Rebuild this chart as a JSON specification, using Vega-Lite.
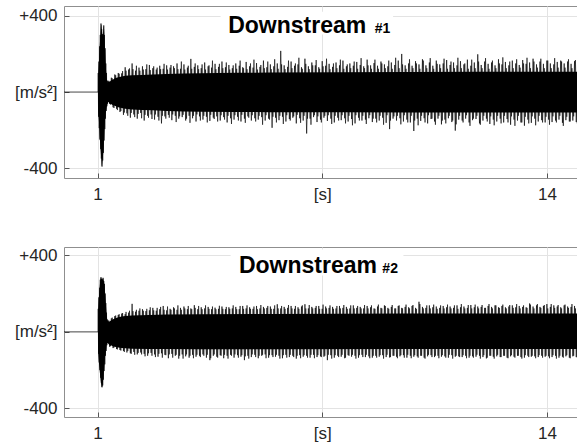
{
  "$schema": "https://vega.github.io/schema/vega-lite/v6.json",
  "padding": {"left": 0, "top": 5, "right": 0, "bottom": 0},
  "spacing": 26,
  "config": {
    "font": "Liberation Sans",
    "view": {"stroke": "#8f8f8f", "strokeWidth": 1},
    "axis": {
      "labelFont": "Liberation Sans",
      "labelFontSize": 17,
      "labelColor": "#262626",
      "domain": false,
      "tickColor": "#555555",
      "tickSize": -5,
      "grid": true,
      "gridColor": "#e3e3e3",
      "labelOverlap": false
    }
  },
  "datasets": {
    "e1": [{"t":1.015,"h":0,"l":0},{"t":1.02,"h":95,"l":-100},{"t":1.04,"h":150,"l":-150},{"t":1.06,"h":230,"l":-230},{"t":1.08,"h":290,"l":-280},{"t":1.1,"h":350,"l":-330},{"t":1.11,"h":355,"l":-345},{"t":1.125,"h":325,"l":-392},{"t":1.14,"h":300,"l":-365},{"t":1.16,"h":295,"l":-330},{"t":1.175,"h":335,"l":-290},{"t":1.185,"h":345,"l":-255},{"t":1.2,"h":290,"l":-195},{"t":1.215,"h":230,"l":-150},{"t":1.23,"h":165,"l":-120},{"t":1.25,"h":105,"l":-95},{"t":1.27,"h":62,"l":-72},{"t":1.29,"h":48,"l":-58},{"t":1.32,"h":55,"l":-52},{"t":1.36,"h":55,"l":-62},{"t":1.4,"h":62,"l":-64},{"t":1.45,"h":66,"l":-70},{"t":1.5,"h":72,"l":-72},{"t":1.6,"h":78,"l":-80},{"t":1.7,"h":82,"l":-84},{"t":1.8,"h":85,"l":-88},{"t":2,"h":88,"l":-92},{"t":2.3,"h":90,"l":-94},{"t":2.6,"h":92,"l":-96},{"t":3,"h":95,"l":-100},{"t":3.5,"h":97,"l":-102},{"t":4,"h":99,"l":-104},{"t":5,"h":101,"l":-105},{"t":6,"h":102,"l":-106},{"t":8,"h":104,"l":-107},{"t":10,"h":105,"l":-108},{"t":12,"h":106,"l":-108},{"t":14.9,"h":106,"l":-108}],
    "s1": [{"t":0.03,"v":0},{"t":1.015,"v":0},{"t":1.02,"v":100},{"t":1.03,"v":-130},{"t":1.04,"v":160},{"t":1.05,"v":-190},{"t":1.06,"v":240},{"t":1.07,"v":-250},{"t":1.08,"v":300},{"t":1.09,"v":-300},{"t":1.1,"v":360},{"t":1.11,"v":-350},{"t":1.12,"v":330},{"t":1.13,"v":-392},{"t":1.14,"v":305},{"t":1.15,"v":-360},{"t":1.16,"v":300},{"t":1.17,"v":-320},{"t":1.18,"v":350},{"t":1.19,"v":-255},{"t":1.2,"v":300},{"t":1.21,"v":-195},{"t":1.22,"v":230},{"t":1.23,"v":-140},{"t":1.24,"v":150},{"t":1.25,"v":-100},{"t":1.26,"v":100},{"t":1.27,"v":-75},{"t":1.28,"v":60},{"t":1.29,"v":-62},
      {"t":1.3,"v":58},{"t":1.35,"v":-62},{"t":1.4,"v":75},{"t":1.45,"v":-80},{"t":1.5,"v":92},{"t":1.55,"v":-88},{"t":1.6,"v":100},{"t":1.65,"v":-105},{"t":1.7,"v":98},{"t":1.75,"v":-120},{"t":1.8,"v":130},{"t":1.85,"v":-112},{"t":1.9,"v":118},{"t":1.95,"v":-135},{"t":2,"v":150},{"t":2.05,"v":-118},{"t":2.1,"v":112},{"t":2.15,"v":-140},{"t":2.2,"v":128},{"t":2.25,"v":-110},{"t":2.3,"v":135},{"t":2.35,"v":-150},{"t":2.4,"v":120},{"t":2.45,"v":-125},{"t":2.5,"v":142},{"t":2.55,"v":-118},{"t":2.6,"v":125},{"t":2.65,"v":-145},{"t":2.7,"v":118},{"t":2.75,"v":-130},{"t":2.8,"v":138},{"t":2.85,"v":-165},{"t":2.9,"v":122},{"t":2.95,"v":-128},
      {"t":3,"v":140},{"t":3.05,"v":-120},{"t":3.1,"v":128},{"t":3.15,"v":-148},{"t":3.2,"v":135},{"t":3.25,"v":-125},{"t":3.3,"v":150},{"t":3.35,"v":-140},{"t":3.4,"v":122},{"t":3.45,"v":-132},{"t":3.5,"v":145},{"t":3.55,"v":-150},{"t":3.6,"v":128},{"t":3.65,"v":-125},{"t":3.7,"v":174},{"t":3.75,"v":-138},{"t":3.8,"v":132},{"t":3.85,"v":-155},{"t":3.9,"v":140},{"t":3.95,"v":-128},
      {"t":4,"v":125},{"t":4.05,"v":-145},{"t":4.1,"v":155},{"t":4.15,"v":-130},{"t":4.2,"v":135},{"t":4.25,"v":-152},{"t":4.3,"v":128},{"t":4.35,"v":-135},{"t":4.4,"v":148},{"t":4.45,"v":-128},{"t":4.5,"v":132},{"t":4.55,"v":-150},{"t":4.6,"v":160},{"t":4.65,"v":-132},{"t":4.7,"v":130},{"t":4.75,"v":-160},{"t":4.8,"v":142},{"t":4.85,"v":-138},{"t":4.9,"v":125},{"t":4.95,"v":-145},
      {"t":5,"v":150},{"t":5.05,"v":-130},{"t":5.1,"v":138},{"t":5.15,"v":-155},{"t":5.2,"v":130},{"t":5.25,"v":-140},{"t":5.3,"v":158},{"t":5.35,"v":-128},{"t":5.4,"v":135},{"t":5.45,"v":-150},{"t":5.5,"v":128},{"t":5.55,"v":-138},{"t":5.6,"v":152},{"t":5.65,"v":-145},{"t":5.7,"v":132},{"t":5.75,"v":-132},{"t":5.8,"v":165},{"t":5.85,"v":-150},{"t":5.9,"v":130},{"t":5.95,"v":-140},
      {"t":6,"v":145},{"t":6.05,"v":-188},{"t":6.1,"v":135},{"t":6.15,"v":-135},{"t":6.2,"v":150},{"t":6.25,"v":-148},{"t":6.3,"v":216},{"t":6.35,"v":-130},{"t":6.4,"v":140},{"t":6.45,"v":-155},{"t":6.5,"v":132},{"t":6.55,"v":-142},{"t":6.6,"v":160},{"t":6.65,"v":-135},{"t":6.7,"v":138},{"t":6.75,"v":-165},{"t":6.8,"v":145},{"t":6.85,"v":-138},{"t":6.9,"v":130},{"t":6.95,"v":-150},
      {"t":7,"v":175},{"t":7.05,"v":-218},{"t":7.1,"v":135},{"t":7.15,"v":-140},{"t":7.2,"v":155},{"t":7.25,"v":-132},{"t":7.3,"v":140},{"t":7.35,"v":-158},{"t":7.4,"v":130},{"t":7.45,"v":-145},{"t":7.5,"v":162},{"t":7.55,"v":-135},{"t":7.6,"v":138},{"t":7.65,"v":-152},{"t":7.7,"v":148},{"t":7.75,"v":-140},{"t":7.8,"v":132},{"t":7.85,"v":-160},{"t":7.9,"v":155},{"t":7.95,"v":-135},
      {"t":8,"v":140},{"t":8.05,"v":-148},{"t":8.1,"v":165},{"t":8.15,"v":-138},{"t":8.2,"v":135},{"t":8.25,"v":-155},{"t":8.3,"v":150},{"t":8.35,"v":-142},{"t":8.4,"v":138},{"t":8.45,"v":-165},{"t":8.5,"v":158},{"t":8.55,"v":-135},{"t":8.6,"v":142},{"t":8.65,"v":-150},{"t":8.7,"v":135},{"t":8.75,"v":-145},{"t":8.8,"v":170},{"t":8.85,"v":-138},{"t":8.9,"v":140},{"t":8.95,"v":-158},
      {"t":9,"v":152},{"t":9.05,"v":-140},{"t":9.1,"v":138},{"t":9.15,"v":-150},{"t":9.2,"v":160},{"t":9.25,"v":-135},{"t":9.3,"v":145},{"t":9.35,"v":-162},{"t":9.4,"v":135},{"t":9.45,"v":-195},{"t":9.5,"v":155},{"t":9.55,"v":-140},{"t":9.6,"v":142},{"t":9.65,"v":-150},{"t":9.7,"v":165},{"t":9.75,"v":-138},{"t":9.8,"v":200},{"t":9.85,"v":-155},{"t":9.9,"v":140},{"t":9.95,"v":-145},
      {"t":10,"v":150},{"t":10.05,"v":-160},{"t":10.1,"v":138},{"t":10.15,"v":-205},{"t":10.2,"v":162},{"t":10.25,"v":-140},{"t":10.3,"v":145},{"t":10.35,"v":-152},{"t":10.4,"v":172},{"t":10.45,"v":-138},{"t":10.5,"v":140},{"t":10.55,"v":-165},{"t":10.6,"v":155},{"t":10.65,"v":-142},{"t":10.7,"v":138},{"t":10.75,"v":-155},{"t":10.8,"v":165},{"t":10.85,"v":-140},{"t":10.9,"v":145},{"t":10.95,"v":-170},
      {"t":11,"v":150},{"t":11.05,"v":-145},{"t":11.1,"v":168},{"t":11.15,"v":-138},{"t":11.2,"v":142},{"t":11.25,"v":-158},{"t":11.3,"v":155},{"t":11.35,"v":-203},{"t":11.4,"v":140},{"t":11.45,"v":-145},{"t":11.5,"v":162},{"t":11.55,"v":-150},{"t":11.6,"v":145},{"t":11.65,"v":-140},{"t":11.7,"v":170},{"t":11.75,"v":-160},{"t":11.8,"v":138},{"t":11.85,"v":-148},{"t":11.9,"v":155},{"t":11.95,"v":-142},
      {"t":12,"v":198},{"t":12.05,"v":-165},{"t":12.1,"v":142},{"t":12.15,"v":-150},{"t":12.2,"v":160},{"t":12.25,"v":-140},{"t":12.3,"v":148},{"t":12.35,"v":-168},{"t":12.4,"v":155},{"t":12.45,"v":-145},{"t":12.5,"v":140},{"t":12.55,"v":-155},{"t":12.6,"v":172},{"t":12.65,"v":-140},{"t":12.7,"v":145},{"t":12.75,"v":-160},{"t":12.8,"v":158},{"t":12.85,"v":-142},{"t":12.9,"v":140},{"t":12.95,"v":-172},
      {"t":13,"v":165},{"t":13.05,"v":-145},{"t":13.1,"v":150},{"t":13.15,"v":-150},{"t":13.2,"v":142},{"t":13.25,"v":-160},{"t":13.3,"v":168},{"t":13.35,"v":-177},{"t":13.4,"v":148},{"t":13.45,"v":-145},{"t":13.5,"v":155},{"t":13.55,"v":-162},{"t":13.6,"v":175},{"t":13.65,"v":-140},{"t":13.7,"v":145},{"t":13.75,"v":-155},{"t":13.8,"v":160},{"t":13.85,"v":-148},{"t":13.9,"v":148},{"t":13.95,"v":-160},
      {"t":14,"v":165},{"t":14.05,"v":-145},{"t":14.1,"v":150},{"t":14.15,"v":-158},{"t":14.2,"v":145},{"t":14.25,"v":-150},{"t":14.3,"v":158},{"t":14.35,"v":-145},{"t":14.4,"v":165},{"t":14.45,"v":-162},{"t":14.5,"v":150},{"t":14.55,"v":-148},{"t":14.6,"v":160},{"t":14.65,"v":-155},{"t":14.7,"v":148},{"t":14.75,"v":-150},{"t":14.8,"v":162},{"t":14.85,"v":-158},{"t":14.9,"v":150}],
    "s1b": [{"t":1.325,"v":60},{"t":1.375,"v":-66},{"t":1.425,"v":72},{"t":1.475,"v":-84},{"t":1.525,"v":88},{"t":1.575,"v":-95},{"t":1.625,"v":96},{"t":1.675,"v":-100},{"t":1.725,"v":110},{"t":1.775,"v":-108},{"t":1.825,"v":112},{"t":1.875,"v":-125},{"t":1.925,"v":124},{"t":1.975,"v":-110},{"t":2.025,"v":120},{"t":2.075,"v":-132},{"t":2.125,"v":138},{"t":2.175,"v":-115},{"t":2.225,"v":112},{"t":2.275,"v":-138},{"t":2.325,"v":118},{"t":2.375,"v":-120},{"t":2.425,"v":145},{"t":2.475,"v":-135},{"t":2.525,"v":115},{"t":2.575,"v":-142},{"t":2.625,"v":135},{"t":2.675,"v":-118},{"t":2.725,"v":128},{"t":2.775,"v":-150},{"t":2.825,"v":120},{"t":2.875,"v":-125},{"t":2.925,"v":148},{"t":2.975,"v":-140},
      {"t":3.025,"v":118},{"t":3.075,"v":-135},{"t":3.125,"v":142},{"t":3.175,"v":-118},{"t":3.225,"v":125},{"t":3.275,"v":-158},{"t":3.325,"v":120},{"t":3.375,"v":-128},{"t":3.425,"v":160},{"t":3.475,"v":-120},{"t":3.525,"v":118},{"t":3.575,"v":-140},{"t":3.625,"v":138},{"t":3.675,"v":-162},{"t":3.725,"v":122},{"t":3.775,"v":-125},{"t":3.825,"v":150},{"t":3.875,"v":-118},{"t":3.925,"v":120},{"t":3.975,"v":-150},
      {"t":4.025,"v":145},{"t":4.075,"v":-125},{"t":4.125,"v":118},{"t":4.175,"v":-160},{"t":4.225,"v":140},{"t":4.275,"v":-120},{"t":4.325,"v":165},{"t":4.375,"v":-142},{"t":4.425,"v":120},{"t":4.475,"v":-155},{"t":4.525,"v":148},{"t":4.575,"v":-122},{"t":4.625,"v":125},{"t":4.675,"v":-145},{"t":4.725,"v":155},{"t":4.775,"v":-125},{"t":4.825,"v":118},{"t":4.875,"v":-168},{"t":4.925,"v":140},{"t":4.975,"v":-122},
      {"t":5.025,"v":122},{"t":5.075,"v":-150},{"t":5.125,"v":165},{"t":5.175,"v":-120},{"t":5.225,"v":125},{"t":5.275,"v":-162},{"t":5.325,"v":120},{"t":5.375,"v":-135},{"t":5.425,"v":150},{"t":5.475,"v":-122},{"t":5.525,"v":170},{"t":5.575,"v":-155},{"t":5.625,"v":118},{"t":5.675,"v":-125},{"t":5.725,"v":142},{"t":5.775,"v":-172},{"t":5.825,"v":125},{"t":5.875,"v":-122},{"t":5.925,"v":160},{"t":5.975,"v":-145},
      {"t":6.025,"v":120},{"t":6.075,"v":-130},{"t":6.125,"v":172},{"t":6.175,"v":-160},{"t":6.225,"v":122},{"t":6.275,"v":-125},{"t":6.325,"v":145},{"t":6.375,"v":-168},{"t":6.425,"v":120},{"t":6.475,"v":-122},{"t":6.525,"v":165},{"t":6.575,"v":-150},{"t":6.625,"v":125},{"t":6.675,"v":-128},{"t":6.725,"v":150},{"t":6.775,"v":-120},{"t":6.825,"v":180},{"t":6.875,"v":-162},{"t":6.925,"v":122},{"t":6.975,"v":-125},
      {"t":7.025,"v":148},{"t":7.075,"v":-140},{"t":7.125,"v":120},{"t":7.175,"v":-172},{"t":7.225,"v":140},{"t":7.275,"v":-122},{"t":7.325,"v":168},{"t":7.375,"v":-128},{"t":7.425,"v":122},{"t":7.475,"v":-160},{"t":7.525,"v":135},{"t":7.575,"v":-125},{"t":7.625,"v":175},{"t":7.675,"v":-122},{"t":7.725,"v":120},{"t":7.775,"v":-168},{"t":7.825,"v":150},{"t":7.875,"v":-125},{"t":7.925,"v":125},{"t":7.975,"v":-150},
      {"t":8.025,"v":170},{"t":8.075,"v":-122},{"t":8.125,"v":122},{"t":8.175,"v":-165},{"t":8.225,"v":145},{"t":8.275,"v":-125},{"t":8.325,"v":125},{"t":8.375,"v":-175},{"t":8.425,"v":160},{"t":8.475,"v":-122},{"t":8.525,"v":122},{"t":8.575,"v":-150},{"t":8.625,"v":178},{"t":8.675,"v":-125},{"t":8.725,"v":125},{"t":8.775,"v":-168},{"t":8.825,"v":140},{"t":8.875,"v":-122},{"t":8.925,"v":122},{"t":8.975,"v":-140},
      {"t":9.025,"v":170},{"t":9.075,"v":-160},{"t":9.125,"v":122},{"t":9.175,"v":-125},{"t":9.225,"v":150},{"t":9.275,"v":-172},{"t":9.325,"v":125},{"t":9.375,"v":-122},{"t":9.425,"v":165},{"t":9.475,"v":-150},{"t":9.525,"v":122},{"t":9.575,"v":-128},{"t":9.625,"v":180},{"t":9.675,"v":-125},{"t":9.725,"v":125},{"t":9.775,"v":-170},{"t":9.825,"v":145},{"t":9.875,"v":-122},{"t":9.925,"v":122},{"t":9.975,"v":-160},
      {"t":10.025,"v":172},{"t":10.075,"v":-125},{"t":10.125,"v":125},{"t":10.175,"v":-150},{"t":10.225,"v":150},{"t":10.275,"v":-175},{"t":10.325,"v":122},{"t":10.375,"v":-125},{"t":10.425,"v":165},{"t":10.475,"v":-160},{"t":10.525,"v":125},{"t":10.575,"v":-122},{"t":10.625,"v":178},{"t":10.675,"v":-140},{"t":10.725,"v":122},{"t":10.775,"v":-172},{"t":10.825,"v":148},{"t":10.875,"v":-125},{"t":10.925,"v":125},{"t":10.975,"v":-150},
      {"t":11.025,"v":175},{"t":11.075,"v":-165},{"t":11.125,"v":122},{"t":11.175,"v":-125},{"t":11.225,"v":160},{"t":11.275,"v":-150},{"t":11.325,"v":125},{"t":11.375,"v":-170},{"t":11.425,"v":180},{"t":11.475,"v":-125},{"t":11.525,"v":125},{"t":11.575,"v":-160},{"t":11.625,"v":150},{"t":11.675,"v":-122},{"t":11.725,"v":122},{"t":11.775,"v":-178},{"t":11.825,"v":170},{"t":11.875,"v":-140},{"t":11.925,"v":125},{"t":11.975,"v":-125},
      {"t":12.025,"v":160},{"t":12.075,"v":-172},{"t":12.125,"v":125},{"t":12.175,"v":-125},{"t":12.225,"v":178},{"t":12.275,"v":-155},{"t":12.325,"v":122},{"t":12.375,"v":-128},{"t":12.425,"v":165},{"t":12.475,"v":-175},{"t":12.525,"v":125},{"t":12.575,"v":-125},{"t":12.625,"v":150},{"t":12.675,"v":-165},{"t":12.725,"v":182},{"t":12.775,"v":-125},{"t":12.825,"v":125},{"t":12.875,"v":-160},{"t":12.925,"v":160},{"t":12.975,"v":-128},
      {"t":13.025,"v":125},{"t":13.075,"v":-178},{"t":13.125,"v":172},{"t":13.175,"v":-125},{"t":13.225,"v":128},{"t":13.275,"v":-160},{"t":13.325,"v":150},{"t":13.375,"v":-130},{"t":13.425,"v":180},{"t":13.475,"v":-165},{"t":13.525,"v":125},{"t":13.575,"v":-128},{"t":13.625,"v":160},{"t":13.675,"v":-175},{"t":13.725,"v":128},{"t":13.775,"v":-125},{"t":13.825,"v":175},{"t":13.875,"v":-160},{"t":13.925,"v":125},{"t":13.975,"v":-130},
      {"t":14.025,"v":165},{"t":14.075,"v":-172},{"t":14.125,"v":125},{"t":14.175,"v":-128},{"t":14.225,"v":178},{"t":14.275,"v":-160},{"t":14.325,"v":128},{"t":14.375,"v":-125},{"t":14.425,"v":160},{"t":14.475,"v":-178},{"t":14.525,"v":128},{"t":14.575,"v":-130},{"t":14.625,"v":172},{"t":14.675,"v":-155},{"t":14.725,"v":125},{"t":14.775,"v":-128},{"t":14.825,"v":168},{"t":14.875,"v":-165}],
    "e2": [{"t":1.015,"h":0,"l":0},{"t":1.02,"h":120,"l":-110},{"t":1.04,"h":180,"l":-160},{"t":1.06,"h":230,"l":-200},{"t":1.08,"h":270,"l":-235},{"t":1.1,"h":285,"l":-265},{"t":1.12,"h":275,"l":-290},{"t":1.14,"h":272,"l":-285},{"t":1.16,"h":280,"l":-255},{"t":1.18,"h":265,"l":-210},{"t":1.2,"h":245,"l":-165},{"t":1.22,"h":200,"l":-125},{"t":1.24,"h":148,"l":-100},{"t":1.26,"h":95,"l":-72},{"t":1.28,"h":63,"l":-58},{"t":1.3,"h":55,"l":-60},{"t":1.35,"h":54,"l":-70},{"t":1.4,"h":60,"l":-72},{"t":1.45,"h":65,"l":-75},{"t":1.5,"h":70,"l":-78},{"t":1.6,"h":76,"l":-82},{"t":1.7,"h":80,"l":-84},{"t":1.8,"h":83,"l":-86},{"t":2,"h":85,"l":-88},{"t":2.5,"h":88,"l":-90},{"t":3,"h":90,"l":-90},{"t":4,"h":92,"l":-91},{"t":6,"h":93,"l":-91},{"t":10,"h":95,"l":-90},{"t":14.9,"h":95,"l":-90}],
    "s2": [{"t":0.03,"v":0},{"t":1.015,"v":0},{"t":1.02,"v":120},{"t":1.03,"v":-115},{"t":1.04,"v":180},{"t":1.05,"v":-160},{"t":1.06,"v":230},{"t":1.07,"v":-200},{"t":1.08,"v":272},{"t":1.09,"v":-240},{"t":1.1,"v":285},{"t":1.11,"v":-268},{"t":1.12,"v":275},{"t":1.13,"v":-290},{"t":1.14,"v":272},{"t":1.15,"v":-280},{"t":1.16,"v":282},{"t":1.17,"v":-250},{"t":1.18,"v":265},{"t":1.19,"v":-205},{"t":1.2,"v":250},{"t":1.21,"v":-170},{"t":1.22,"v":200},{"t":1.23,"v":-125},{"t":1.24,"v":150},{"t":1.25,"v":-100},{"t":1.26,"v":100},{"t":1.27,"v":-70},{"t":1.28,"v":65},{"t":1.29,"v":-58},
      {"t":1.3,"v":58},{"t":1.35,"v":-78},{"t":1.4,"v":70},{"t":1.45,"v":-85},{"t":1.5,"v":82},{"t":1.55,"v":-90},{"t":1.6,"v":88},{"t":1.65,"v":-95},{"t":1.7,"v":95},{"t":1.75,"v":-100},{"t":1.8,"v":92},{"t":1.85,"v":-108},{"t":1.9,"v":100},{"t":1.95,"v":-112},{"t":2,"v":146},{"t":2.05,"v":-105},{"t":2.1,"v":105},{"t":2.15,"v":-118},{"t":2.2,"v":110},{"t":2.25,"v":-108},{"t":2.3,"v":118},{"t":2.35,"v":-115},{"t":2.4,"v":108},{"t":2.45,"v":-125},{"t":2.5,"v":112},{"t":2.55,"v":-110},{"t":2.6,"v":125},{"t":2.65,"v":-118},{"t":2.7,"v":110},{"t":2.75,"v":-130},{"t":2.8,"v":118},{"t":2.85,"v":-112},{"t":2.9,"v":135},{"t":2.95,"v":-120},
      {"t":3,"v":112},{"t":3.05,"v":-138},{"t":3.1,"v":120},{"t":3.15,"v":-115},{"t":3.2,"v":128},{"t":3.25,"v":-125},{"t":3.3,"v":115},{"t":3.35,"v":-140},{"t":3.4,"v":125},{"t":3.45,"v":-118},{"t":3.5,"v":132},{"t":3.55,"v":-128},{"t":3.6,"v":118},{"t":3.65,"v":-135},{"t":3.7,"v":122},{"t":3.75,"v":-120},{"t":3.8,"v":139},{"t":3.85,"v":-130},{"t":3.9,"v":118},{"t":3.95,"v":-125},
      {"t":4,"v":128},{"t":4.05,"v":-118},{"t":4.1,"v":122},{"t":4.15,"v":-135},{"t":4.2,"v":130},{"t":4.25,"v":-148},{"t":4.3,"v":118},{"t":4.35,"v":-125},{"t":4.4,"v":126},{"t":4.45,"v":-130},{"t":4.5,"v":120},{"t":4.55,"v":-122},{"t":4.6,"v":132},{"t":4.65,"v":-138},{"t":4.7,"v":118},{"t":4.75,"v":-125},{"t":4.8,"v":128},{"t":4.85,"v":-120},{"t":4.9,"v":122},{"t":4.95,"v":-135},
      {"t":5,"v":130},{"t":5.05,"v":-122},{"t":5.1,"v":118},{"t":5.15,"v":-130},{"t":5.2,"v":135},{"t":5.25,"v":-148},{"t":5.3,"v":122},{"t":5.35,"v":-125},{"t":5.4,"v":128},{"t":5.45,"v":-132},{"t":5.5,"v":120},{"t":5.55,"v":-120},{"t":5.6,"v":135},{"t":5.65,"v":-138},{"t":5.7,"v":122},{"t":5.75,"v":-125},{"t":5.8,"v":130},{"t":5.85,"v":-118},{"t":5.9,"v":125},{"t":5.95,"v":-135},
      {"t":6,"v":132},{"t":6.05,"v":-122},{"t":6.1,"v":120},{"t":6.15,"v":-130},{"t":6.2,"v":144},{"t":6.25,"v":-125},{"t":6.3,"v":122},{"t":6.35,"v":-138},{"t":6.4,"v":130},{"t":6.45,"v":-120},{"t":6.5,"v":125},{"t":6.55,"v":-132},{"t":6.6,"v":135},{"t":6.65,"v":-125},{"t":6.7,"v":120},{"t":6.75,"v":-140},{"t":6.8,"v":128},{"t":6.85,"v":-122},{"t":6.9,"v":132},{"t":6.95,"v":-130},
      {"t":7,"v":144},{"t":7.05,"v":-125},{"t":7.1,"v":122},{"t":7.15,"v":-135},{"t":7.2,"v":130},{"t":7.25,"v":-120},{"t":7.3,"v":125},{"t":7.35,"v":-132},{"t":7.4,"v":135},{"t":7.45,"v":-128},{"t":7.5,"v":120},{"t":7.55,"v":-130},{"t":7.6,"v":132},{"t":7.65,"v":-148},{"t":7.7,"v":125},{"t":7.75,"v":-122},{"t":7.8,"v":130},{"t":7.85,"v":-135},{"t":7.9,"v":122},{"t":7.95,"v":-125},
      {"t":8,"v":135},{"t":8.05,"v":-130},{"t":8.1,"v":125},{"t":8.15,"v":-138},{"t":8.2,"v":130},{"t":8.25,"v":-122},{"t":8.3,"v":122},{"t":8.35,"v":-130},{"t":8.4,"v":138},{"t":8.45,"v":-125},{"t":8.5,"v":125},{"t":8.55,"v":-135},{"t":8.6,"v":130},{"t":8.65,"v":-120},{"t":8.7,"v":122},{"t":8.75,"v":-132},{"t":8.8,"v":135},{"t":8.85,"v":-128},{"t":8.9,"v":128},{"t":8.95,"v":-135},
      {"t":9,"v":122},{"t":9.05,"v":-125},{"t":9.1,"v":132},{"t":9.15,"v":-130},{"t":9.2,"v":125},{"t":9.25,"v":-122},{"t":9.3,"v":138},{"t":9.35,"v":-132},{"t":9.4,"v":125},{"t":9.45,"v":-134},{"t":9.5,"v":130},{"t":9.55,"v":-125},{"t":9.6,"v":122},{"t":9.65,"v":-130},{"t":9.7,"v":135},{"t":9.75,"v":-128},{"t":9.8,"v":125},{"t":9.85,"v":-122},{"t":9.9,"v":130},{"t":9.95,"v":-135},
      {"t":10,"v":128},{"t":10.05,"v":-125},{"t":10.1,"v":135},{"t":10.15,"v":-130},{"t":10.2,"v":125},{"t":10.25,"v":-128},{"t":10.3,"v":157},{"t":10.35,"v":-125},{"t":10.4,"v":130},{"t":10.45,"v":-135},{"t":10.5,"v":125},{"t":10.55,"v":-128},{"t":10.6,"v":138},{"t":10.65,"v":-122},{"t":10.7,"v":128},{"t":10.75,"v":-132},{"t":10.8,"v":132},{"t":10.85,"v":-125},{"t":10.9,"v":125},{"t":10.95,"v":-130},
      {"t":11,"v":135},{"t":11.05,"v":-128},{"t":11.1,"v":128},{"t":11.15,"v":-135},{"t":11.2,"v":132},{"t":11.25,"v":-122},{"t":11.3,"v":125},{"t":11.35,"v":-130},{"t":11.4,"v":138},{"t":11.45,"v":-128},{"t":11.5,"v":128},{"t":11.55,"v":-132},{"t":11.6,"v":132},{"t":11.65,"v":-125},{"t":11.7,"v":125},{"t":11.75,"v":-135},{"t":11.8,"v":140},{"t":11.85,"v":-128},{"t":11.9,"v":128},{"t":11.95,"v":-130},
      {"t":12,"v":132},{"t":12.05,"v":-125},{"t":12.1,"v":130},{"t":12.15,"v":-132},{"t":12.2,"v":125},{"t":12.25,"v":-139},{"t":12.3,"v":135},{"t":12.35,"v":-125},{"t":12.4,"v":130},{"t":12.45,"v":-130},{"t":12.5,"v":138},{"t":12.55,"v":-128},{"t":12.6,"v":128},{"t":12.65,"v":-132},{"t":12.7,"v":135},{"t":12.75,"v":-125},{"t":12.8,"v":128},{"t":12.85,"v":-135},{"t":12.9,"v":132},{"t":12.95,"v":-128},
      {"t":13,"v":138},{"t":13.05,"v":-130},{"t":13.1,"v":128},{"t":13.15,"v":-125},{"t":13.2,"v":135},{"t":13.25,"v":-132},{"t":13.3,"v":130},{"t":13.35,"v":-135},{"t":13.4,"v":128},{"t":13.45,"v":-125},{"t":13.5,"v":148},{"t":13.55,"v":-130},{"t":13.6,"v":132},{"t":13.65,"v":-128},{"t":13.7,"v":138},{"t":13.75,"v":-132},{"t":13.8,"v":130},{"t":13.85,"v":-125},{"t":13.9,"v":135},{"t":13.95,"v":-130},
      {"t":14,"v":145},{"t":14.05,"v":-128},{"t":14.1,"v":130},{"t":14.15,"v":-132},{"t":14.2,"v":138},{"t":14.25,"v":-125},{"t":14.3,"v":132},{"t":14.35,"v":-135},{"t":14.4,"v":128},{"t":14.45,"v":-130},{"t":14.5,"v":138},{"t":14.55,"v":-128},{"t":14.6,"v":132},{"t":14.65,"v":-135},{"t":14.7,"v":130},{"t":14.75,"v":-128},{"t":14.8,"v":135},{"t":14.85,"v":-132},{"t":14.9,"v":130}],
    "s2b": [{"t":1.325,"v":62},{"t":1.375,"v":-75},{"t":1.425,"v":74},{"t":1.475,"v":-82},{"t":1.525,"v":85},{"t":1.575,"v":-92},{"t":1.625,"v":92},{"t":1.675,"v":-98},{"t":1.725,"v":98},{"t":1.775,"v":-105},{"t":1.825,"v":104},{"t":1.875,"v":-100},{"t":1.925,"v":110},{"t":1.975,"v":-115},{"t":2.025,"v":108},{"t":2.075,"v":-120},{"t":2.125,"v":115},{"t":2.175,"v":-110},{"t":2.225,"v":122},{"t":2.275,"v":-118},{"t":2.325,"v":110},{"t":2.375,"v":-128},{"t":2.425,"v":120},{"t":2.475,"v":-112},{"t":2.525,"v":128},{"t":2.575,"v":-125},{"t":2.625,"v":112},{"t":2.675,"v":-132},{"t":2.725,"v":125},{"t":2.775,"v":-115},{"t":2.825,"v":130},{"t":2.875,"v":-135},{"t":2.925,"v":115},{"t":2.975,"v":-122},
      {"t":3.025,"v":132},{"t":3.075,"v":-118},{"t":3.125,"v":115},{"t":3.175,"v":-135},{"t":3.225,"v":122},{"t":3.275,"v":-120},{"t":3.325,"v":138},{"t":3.375,"v":-125},{"t":3.425,"v":115},{"t":3.475,"v":-140},{"t":3.525,"v":122},{"t":3.575,"v":-118},{"t":3.625,"v":135},{"t":3.675,"v":-125},{"t":3.725,"v":118},{"t":3.775,"v":-138},{"t":3.825,"v":125},{"t":3.875,"v":-120},{"t":3.925,"v":135},{"t":3.975,"v":-132},
      {"t":4.025,"v":118},{"t":4.075,"v":-125},{"t":4.125,"v":138},{"t":4.175,"v":-120},{"t":4.225,"v":120},{"t":4.275,"v":-138},{"t":4.325,"v":132},{"t":4.375,"v":-118},{"t":4.425,"v":118},{"t":4.475,"v":-135},{"t":4.525,"v":136},{"t":4.575,"v":-125},{"t":4.625,"v":120},{"t":4.675,"v":-120},{"t":4.725,"v":130},{"t":4.775,"v":-140},{"t":4.825,"v":120},{"t":4.875,"v":-125},{"t":4.925,"v":138},{"t":4.975,"v":-118},
      {"t":5.025,"v":118},{"t":5.075,"v":-135},{"t":5.125,"v":135},{"t":5.175,"v":-122},{"t":5.225,"v":120},{"t":5.275,"v":-128},{"t":5.325,"v":138},{"t":5.375,"v":-140},{"t":5.425,"v":120},{"t":5.475,"v":-118},{"t":5.525,"v":132},{"t":5.575,"v":-132},{"t":5.625,"v":118},{"t":5.675,"v":-125},{"t":5.725,"v":140},{"t":5.775,"v":-120},{"t":5.825,"v":122},{"t":5.875,"v":-138},{"t":5.925,"v":135},{"t":5.975,"v":-122},
      {"t":6.025,"v":120},{"t":6.075,"v":-132},{"t":6.125,"v":138},{"t":6.175,"v":-120},{"t":6.225,"v":122},{"t":6.275,"v":-140},{"t":6.325,"v":135},{"t":6.375,"v":-122},{"t":6.425,"v":120},{"t":6.475,"v":-135},{"t":6.525,"v":140},{"t":6.575,"v":-120},{"t":6.625,"v":122},{"t":6.675,"v":-132},{"t":6.725,"v":135},{"t":6.775,"v":-125},{"t":6.825,"v":120},{"t":6.875,"v":-138},{"t":6.925,"v":138},{"t":6.975,"v":-122},
      {"t":7.025,"v":122},{"t":7.075,"v":-135},{"t":7.125,"v":140},{"t":7.175,"v":-120},{"t":7.225,"v":122},{"t":7.275,"v":-138},{"t":7.325,"v":135},{"t":7.375,"v":-122},{"t":7.425,"v":120},{"t":7.475,"v":-132},{"t":7.525,"v":142},{"t":7.575,"v":-125},{"t":7.625,"v":122},{"t":7.675,"v":-120},{"t":7.725,"v":138},{"t":7.775,"v":-140},{"t":7.825,"v":120},{"t":7.875,"v":-122},{"t":7.925,"v":135},{"t":7.975,"v":-132},
      {"t":8.025,"v":122},{"t":8.075,"v":-120},{"t":8.125,"v":140},{"t":8.175,"v":-135},{"t":8.225,"v":120},{"t":8.275,"v":-125},{"t":8.325,"v":138},{"t":8.375,"v":-120},{"t":8.425,"v":122},{"t":8.475,"v":-140},{"t":8.525,"v":135},{"t":8.575,"v":-122},{"t":8.625,"v":122},{"t":8.675,"v":-132},{"t":8.725,"v":140},{"t":8.775,"v":-120},{"t":8.825,"v":122},{"t":8.875,"v":-138},{"t":8.925,"v":138},{"t":8.975,"v":-125},
      {"t":9.025,"v":120},{"t":9.075,"v":-135},{"t":9.125,"v":142},{"t":9.175,"v":-122},{"t":9.225,"v":122},{"t":9.275,"v":-140},{"t":9.325,"v":135},{"t":9.375,"v":-120},{"t":9.425,"v":120},{"t":9.475,"v":-132},{"t":9.525,"v":140},{"t":9.575,"v":-125},{"t":9.625,"v":122},{"t":9.675,"v":-138},{"t":9.725,"v":138},{"t":9.775,"v":-122},{"t":9.825,"v":122},{"t":9.875,"v":-135},{"t":9.925,"v":142},{"t":9.975,"v":-120},
      {"t":10.025,"v":122},{"t":10.075,"v":-138},{"t":10.125,"v":140},{"t":10.175,"v":-122},{"t":10.225,"v":120},{"t":10.275,"v":-135},{"t":10.325,"v":145},{"t":10.375,"v":-125},{"t":10.425,"v":122},{"t":10.475,"v":-140},{"t":10.525,"v":138},{"t":10.575,"v":-120},{"t":10.625,"v":122},{"t":10.675,"v":-132},{"t":10.725,"v":142},{"t":10.775,"v":-125},{"t":10.825,"v":120},{"t":10.875,"v":-138},{"t":10.925,"v":138},{"t":10.975,"v":-122},
      {"t":11.025,"v":122},{"t":11.075,"v":-135},{"t":11.125,"v":142},{"t":11.175,"v":-120},{"t":11.225,"v":122},{"t":11.275,"v":-140},{"t":11.325,"v":138},{"t":11.375,"v":-125},{"t":11.425,"v":120},{"t":11.475,"v":-132},{"t":11.525,"v":145},{"t":11.575,"v":-122},{"t":11.625,"v":122},{"t":11.675,"v":-138},{"t":11.725,"v":140},{"t":11.775,"v":-125},{"t":11.825,"v":122},{"t":11.875,"v":-135},{"t":11.925,"v":142},{"t":11.975,"v":-120},
      {"t":12.025,"v":122},{"t":12.075,"v":-140},{"t":12.125,"v":140},{"t":12.175,"v":-122},{"t":12.225,"v":125},{"t":12.275,"v":-135},{"t":12.325,"v":145},{"t":12.375,"v":-125},{"t":12.425,"v":122},{"t":12.475,"v":-140},{"t":12.525,"v":138},{"t":12.575,"v":-120},{"t":12.625,"v":125},{"t":12.675,"v":-132},{"t":12.725,"v":142},{"t":12.775,"v":-125},{"t":12.825,"v":122},{"t":12.875,"v":-138},{"t":12.925,"v":140},{"t":12.975,"v":-122},
      {"t":13.025,"v":125},{"t":13.075,"v":-135},{"t":13.125,"v":145},{"t":13.175,"v":-125},{"t":13.225,"v":122},{"t":13.275,"v":-140},{"t":13.325,"v":138},{"t":13.375,"v":-122},{"t":13.425,"v":125},{"t":13.475,"v":-132},{"t":13.525,"v":142},{"t":13.575,"v":-125},{"t":13.625,"v":122},{"t":13.675,"v":-138},{"t":13.725,"v":145},{"t":13.775,"v":-122},{"t":13.825,"v":125},{"t":13.875,"v":-135},{"t":13.925,"v":140},{"t":13.975,"v":-125},
      {"t":14.025,"v":122},{"t":14.075,"v":-138},{"t":14.125,"v":145},{"t":14.175,"v":-122},{"t":14.225,"v":125},{"t":14.275,"v":-140},{"t":14.325,"v":140},{"t":14.375,"v":-125},{"t":14.425,"v":122},{"t":14.475,"v":-135},{"t":14.525,"v":142},{"t":14.575,"v":-122},{"t":14.625,"v":125},{"t":14.675,"v":-138},{"t":14.725,"v":145},{"t":14.775,"v":-125},{"t":14.825,"v":122},{"t":14.875,"v":-135}]
  },
  "vconcat": [
    {
      "width": 514,
      "height": 172,
      "layer": [
        {
          "data": {"values": [{}]},
          "mark": {"type": "rect", "fill": "white"},
          "encoding": {
            "x": {"datum": 4.56, "type": "quantitative", "title": null},
            "x2": {"datum": 9.55},
            "y": {"datum": 302, "type": "quantitative", "title": null},
            "y2": {"datum": 422}
          }
        },
        {
          "data": {"name": "e1"},
          "mark": {"type": "area", "color": "black"},
          "encoding": {
            "x": {"field": "t", "type": "quantitative", "title": null,
              "scale": {"domain": [0.03, 14.9], "nice": false, "zero": false},
              "axis": {"values": [1, 7.5, 14], "labelExpr": "datum.value == 7.5 ? '[s]' : datum.label", "labelPadding": 13, "minExtent": 40, "labelFlush": false}},
            "y": {"field": "h", "type": "quantitative", "title": null,
              "scale": {"domain": [-452, 452], "nice": false},
              "axis": {"values": [-400, 0, 400], "labelExpr": "datum.value > 0 ? '+400' : (datum.value < 0 ? '-400' : '[m/s²]')", "labelPadding": 12, "minExtent": 63}},
            "y2": {"field": "l"}
          }
        },
        {
          "data": {"name": "s1"},
          "mark": {"type": "line", "color": "black", "strokeWidth": 0.65},
          "encoding": {
            "x": {"field": "t", "type": "quantitative", "title": null},
            "y": {"field": "v", "type": "quantitative", "title": null}
          }
        },
        {
          "data": {"name": "s1b"},
          "mark": {"type": "line", "color": "black", "strokeWidth": 0.6},
          "encoding": {
            "x": {"field": "t", "type": "quantitative", "title": null},
            "y": {"field": "v", "type": "quantitative", "title": null}
          }
        },
        {
          "data": {"values": [{}]},
          "mark": {"type": "text", "text": "Downstream", "font": "Liberation Sans", "fontWeight": "bold", "fontSize": 23, "align": "left", "baseline": "alphabetic", "color": "black"},
          "encoding": {
            "x": {"datum": 4.78, "type": "quantitative", "title": null},
            "y": {"datum": 308, "type": "quantitative", "title": null}
          }
        },
        {
          "data": {"values": [{}]},
          "mark": {"type": "text", "text": "#1", "font": "Liberation Sans", "fontWeight": "bold", "fontSize": 14, "align": "left", "baseline": "alphabetic", "color": "black"},
          "encoding": {
            "x": {"datum": 9.02, "type": "quantitative", "title": null},
            "y": {"datum": 308, "type": "quantitative", "title": null}
          }
        }
      ]
    },
    {
      "width": 514,
      "height": 170,
      "layer": [
        {
          "data": {"values": [{}]},
          "mark": {"type": "rect", "fill": "white"},
          "encoding": {
            "x": {"datum": 4.85, "type": "quantitative", "title": null},
            "x2": {"datum": 9.85},
            "y": {"datum": 294, "type": "quantitative", "title": null},
            "y2": {"datum": 430}
          }
        },
        {
          "data": {"name": "e2"},
          "mark": {"type": "area", "color": "black"},
          "encoding": {
            "x": {"field": "t", "type": "quantitative", "title": null,
              "scale": {"domain": [0.03, 14.9], "nice": false, "zero": false},
              "axis": {"values": [1, 7.5, 14], "labelExpr": "datum.value == 7.5 ? '[s]' : datum.label", "labelPadding": 13, "minExtent": 40, "labelFlush": false}},
            "y": {"field": "h", "type": "quantitative", "title": null,
              "scale": {"domain": [-445, 443], "nice": false},
              "axis": {"values": [-400, 0, 400], "labelExpr": "datum.value > 0 ? '+400' : (datum.value < 0 ? '-400' : '[m/s²]')", "labelPadding": 12, "minExtent": 63}},
            "y2": {"field": "l"}
          }
        },
        {
          "data": {"name": "s2"},
          "mark": {"type": "line", "color": "black", "strokeWidth": 0.65},
          "encoding": {
            "x": {"field": "t", "type": "quantitative", "title": null},
            "y": {"field": "v", "type": "quantitative", "title": null}
          }
        },
        {
          "data": {"name": "s2b"},
          "mark": {"type": "line", "color": "black", "strokeWidth": 0.6},
          "encoding": {
            "x": {"field": "t", "type": "quantitative", "title": null},
            "y": {"field": "v", "type": "quantitative", "title": null}
          }
        },
        {
          "data": {"values": [{}]},
          "mark": {"type": "text", "text": "Downstream", "font": "Liberation Sans", "fontWeight": "bold", "fontSize": 23, "align": "left", "baseline": "alphabetic", "color": "black"},
          "encoding": {
            "x": {"datum": 5.09, "type": "quantitative", "title": null},
            "y": {"datum": 309.5, "type": "quantitative", "title": null}
          }
        },
        {
          "data": {"values": [{}]},
          "mark": {"type": "text", "text": "#2", "font": "Liberation Sans", "fontWeight": "bold", "fontSize": 14, "align": "left", "baseline": "alphabetic", "color": "black"},
          "encoding": {
            "x": {"datum": 9.24, "type": "quantitative", "title": null},
            "y": {"datum": 309.5, "type": "quantitative", "title": null}
          }
        }
      ]
    }
  ]
}
